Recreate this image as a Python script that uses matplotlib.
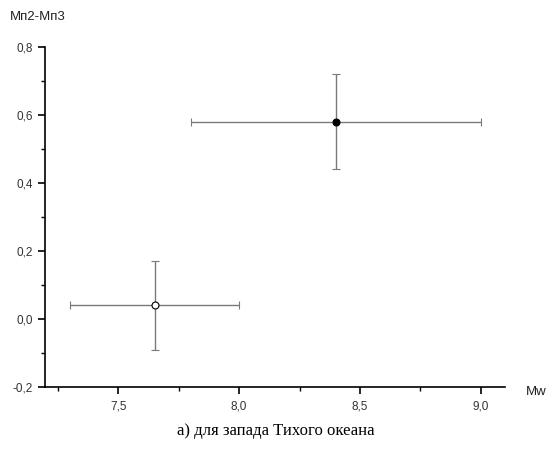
import matplotlib
matplotlib.use("Agg")
import matplotlib.pyplot as plt
from matplotlib.ticker import MultipleLocator, FuncFormatter

# data
mw = [7.65, 8.4]
mw_lo = [7.3, 7.8]
mw_hi = [8.0, 9.0]
dm = [0.04, 0.58]
dm_lo = [-0.09, 0.44]
dm_hi = [0.17, 0.72]
filled = [False, True]

plt.rcParams['font.family'] = ['Liberation Sans', 'DejaVu Sans']

fig = plt.figure(figsize=(5.51, 4.5), dpi=100)
ax = fig.add_axes([0.0817, 0.14, 0.835, 0.756])

for x, xl, xh, y, yl, yh, f in zip(mw, mw_lo, mw_hi, dm, dm_lo, dm_hi, filled):
    ax.errorbar([x], [y], xerr=[[x - xl], [xh - x]], yerr=[[y - yl], [yh - y]],
                fmt='o', ms=5, mfc='black' if f else 'white', mec='black', mew=0.8,
                ecolor='#7a7a7a', elinewidth=1.0, capsize=3, capthick=1.0, zorder=3)

ax.set_xlim(7.197, 9.10)
ax.set_ylim(-0.2, 0.8)
ax.xaxis.set_major_locator(MultipleLocator(0.5))
ax.xaxis.set_minor_locator(MultipleLocator(0.25))
ax.yaxis.set_major_locator(MultipleLocator(0.2))
ax.yaxis.set_minor_locator(MultipleLocator(0.1))
fmt = FuncFormatter(lambda v, p: ('%.1f' % v).replace('.', ','))
ax.xaxis.set_major_formatter(fmt)
ax.yaxis.set_major_formatter(fmt)
for s in ['top', 'right']:
    ax.spines[s].set_visible(False)
for s in ['left', 'bottom']:
    ax.spines[s].set_linewidth(1.2)
ax.tick_params(which='major', direction='out', length=5, width=1.2, labelsize=8.5, colors='black', labelcolor='#333333')
ax.tick_params(axis='x', which='major', pad=5)
ax.tick_params(which='minor', direction='out', length=3, width=1.0)

fig.text(0.955, 0.128, 'Mw', fontsize=9.5, ha='left', va='center', color='#222222')
fig.text(0.018, 0.962, 'Mп2-Mп3', fontsize=9.5, ha='left', va='center', color='#222222')
fig.text(0.5, 0.043, 'а) для запада Тихого океана', fontsize=12, ha='center', va='center',
         family=['Liberation Serif', 'DejaVu Serif'])

fig.savefig('out.png', dpi=100)
